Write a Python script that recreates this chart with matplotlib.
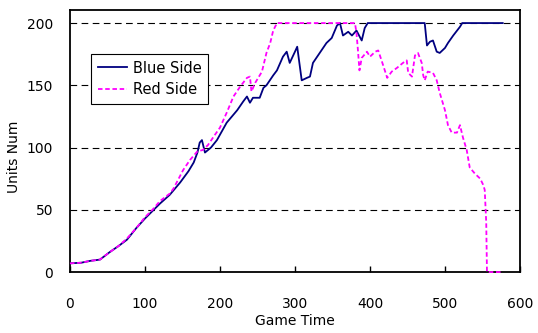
import matplotlib
matplotlib.use('Agg')
import matplotlib.pyplot as plt

# datos
blue_x = [0, 15, 27, 40, 53, 65, 76, 88, 100, 110, 120, 133, 147, 158, 165, 170, 173, 176, 180,
          188, 196, 209, 223, 231, 236, 240, 244, 253, 258, 262, 271, 276, 284, 289, 293, 300, 303,
          309, 316, 320, 324, 333, 342, 349, 356, 360, 364, 371, 376, 382, 389, 393, 397, 473,
          476, 480, 484, 489, 493, 500, 504, 511, 520, 523, 577]
blue_y = [7, 7.5, 9, 10, 16, 21, 26, 35, 43, 49, 55, 62, 72, 81, 88, 96, 104, 106, 96,
          100, 106, 120, 130, 137, 141, 136, 140, 140, 148, 150, 158, 162, 173, 177, 168, 177, 181,
          154, 156, 157, 168, 176, 184, 188, 198, 200, 190, 193, 190, 194, 186, 196, 200, 200,
          182, 185, 186, 177, 176, 180, 184, 190, 197, 200, 200]

red_x = [0, 15, 27, 40, 53, 65, 76, 88, 100, 110, 120, 133, 138, 151, 160, 170, 177, 184, 193,
         200, 209, 218, 227, 236, 240, 242, 247, 256, 262, 267, 271, 276, 380, 382, 384, 386,
         389, 396, 400, 407, 411, 416, 423, 429, 436, 444, 449, 451, 456, 460, 464, 469, 471,
         473, 477, 484, 489, 493, 500, 504, 509, 516, 520, 524, 529, 533, 540, 547, 551, 553,
         555, 556, 577]
red_y = [7, 7.5, 9, 10, 16, 21, 27, 35, 44, 50, 57, 63, 67, 82, 90, 97, 98, 102, 110,
         116, 128, 141, 149, 156, 157, 145, 152, 161, 176, 184, 194, 200, 200, 192, 178, 162,
         172, 177, 173, 177, 178, 169, 156, 161, 164, 168, 170, 160, 157, 174, 176, 168, 158,
         154, 161, 160, 154, 144, 130, 118, 112, 112, 118, 108, 98, 84, 79, 75, 70, 66,
         40, 0, 0]

x_ticks = [0, 100, 200, 300, 400, 500, 600]
y_ticks = [0, 50, 100, 150, 200]

plt.rcParams['font.family'] = ['DejaVu Sans']

fig = plt.figure(figsize=(5.38, 3.33), dpi=100)
ax = fig.add_axes([0.130, 0.183, 0.8365, 0.787])

ax.plot(blue_x, blue_y, color='#000080', lw=1.3, label='Blue Side', zorder=3)
ax.plot(red_x, red_y, color='#ff00ff', lw=1.3, linestyle=(0, (2.5, 1.5)),
        label='Red Side', zorder=4, clip_on=False)

ax.set_xlim(0, 600)
ax.set_ylim(0, 210.5)
ax.set_xticks(x_ticks)
ax.set_yticks(y_ticks)
ax.tick_params(axis='x', direction='in', length=4, width=1, pad=18, labelsize=10)
ax.tick_params(axis='y', length=0, pad=12, labelsize=10)
ax.tick_params(top=False, right=False)

for y in y_ticks[1:]:
    ax.axhline(y, color='black', lw=0.8, linestyle=(0, (6, 4)), zorder=1)

for s in ax.spines.values():
    s.set_linewidth(1.3)
    s.set_color('black')

ax.set_xlabel('Game Time', fontsize=10, labelpad=2)
ax.set_ylabel('Units Num', fontsize=10)
ax.yaxis.set_label_coords(-0.108, 0.44)

leg = ax.legend(loc='upper left', bbox_to_anchor=(0.047, 0.832), borderaxespad=0,
                fancybox=False, edgecolor='black', framealpha=1, fontsize=10.5,
                handlelength=2.0, handletextpad=0.4, borderpad=0.45, labelspacing=0.45)
leg.get_frame().set_linewidth(0.8)

fig.savefig('out.png', dpi=100)
